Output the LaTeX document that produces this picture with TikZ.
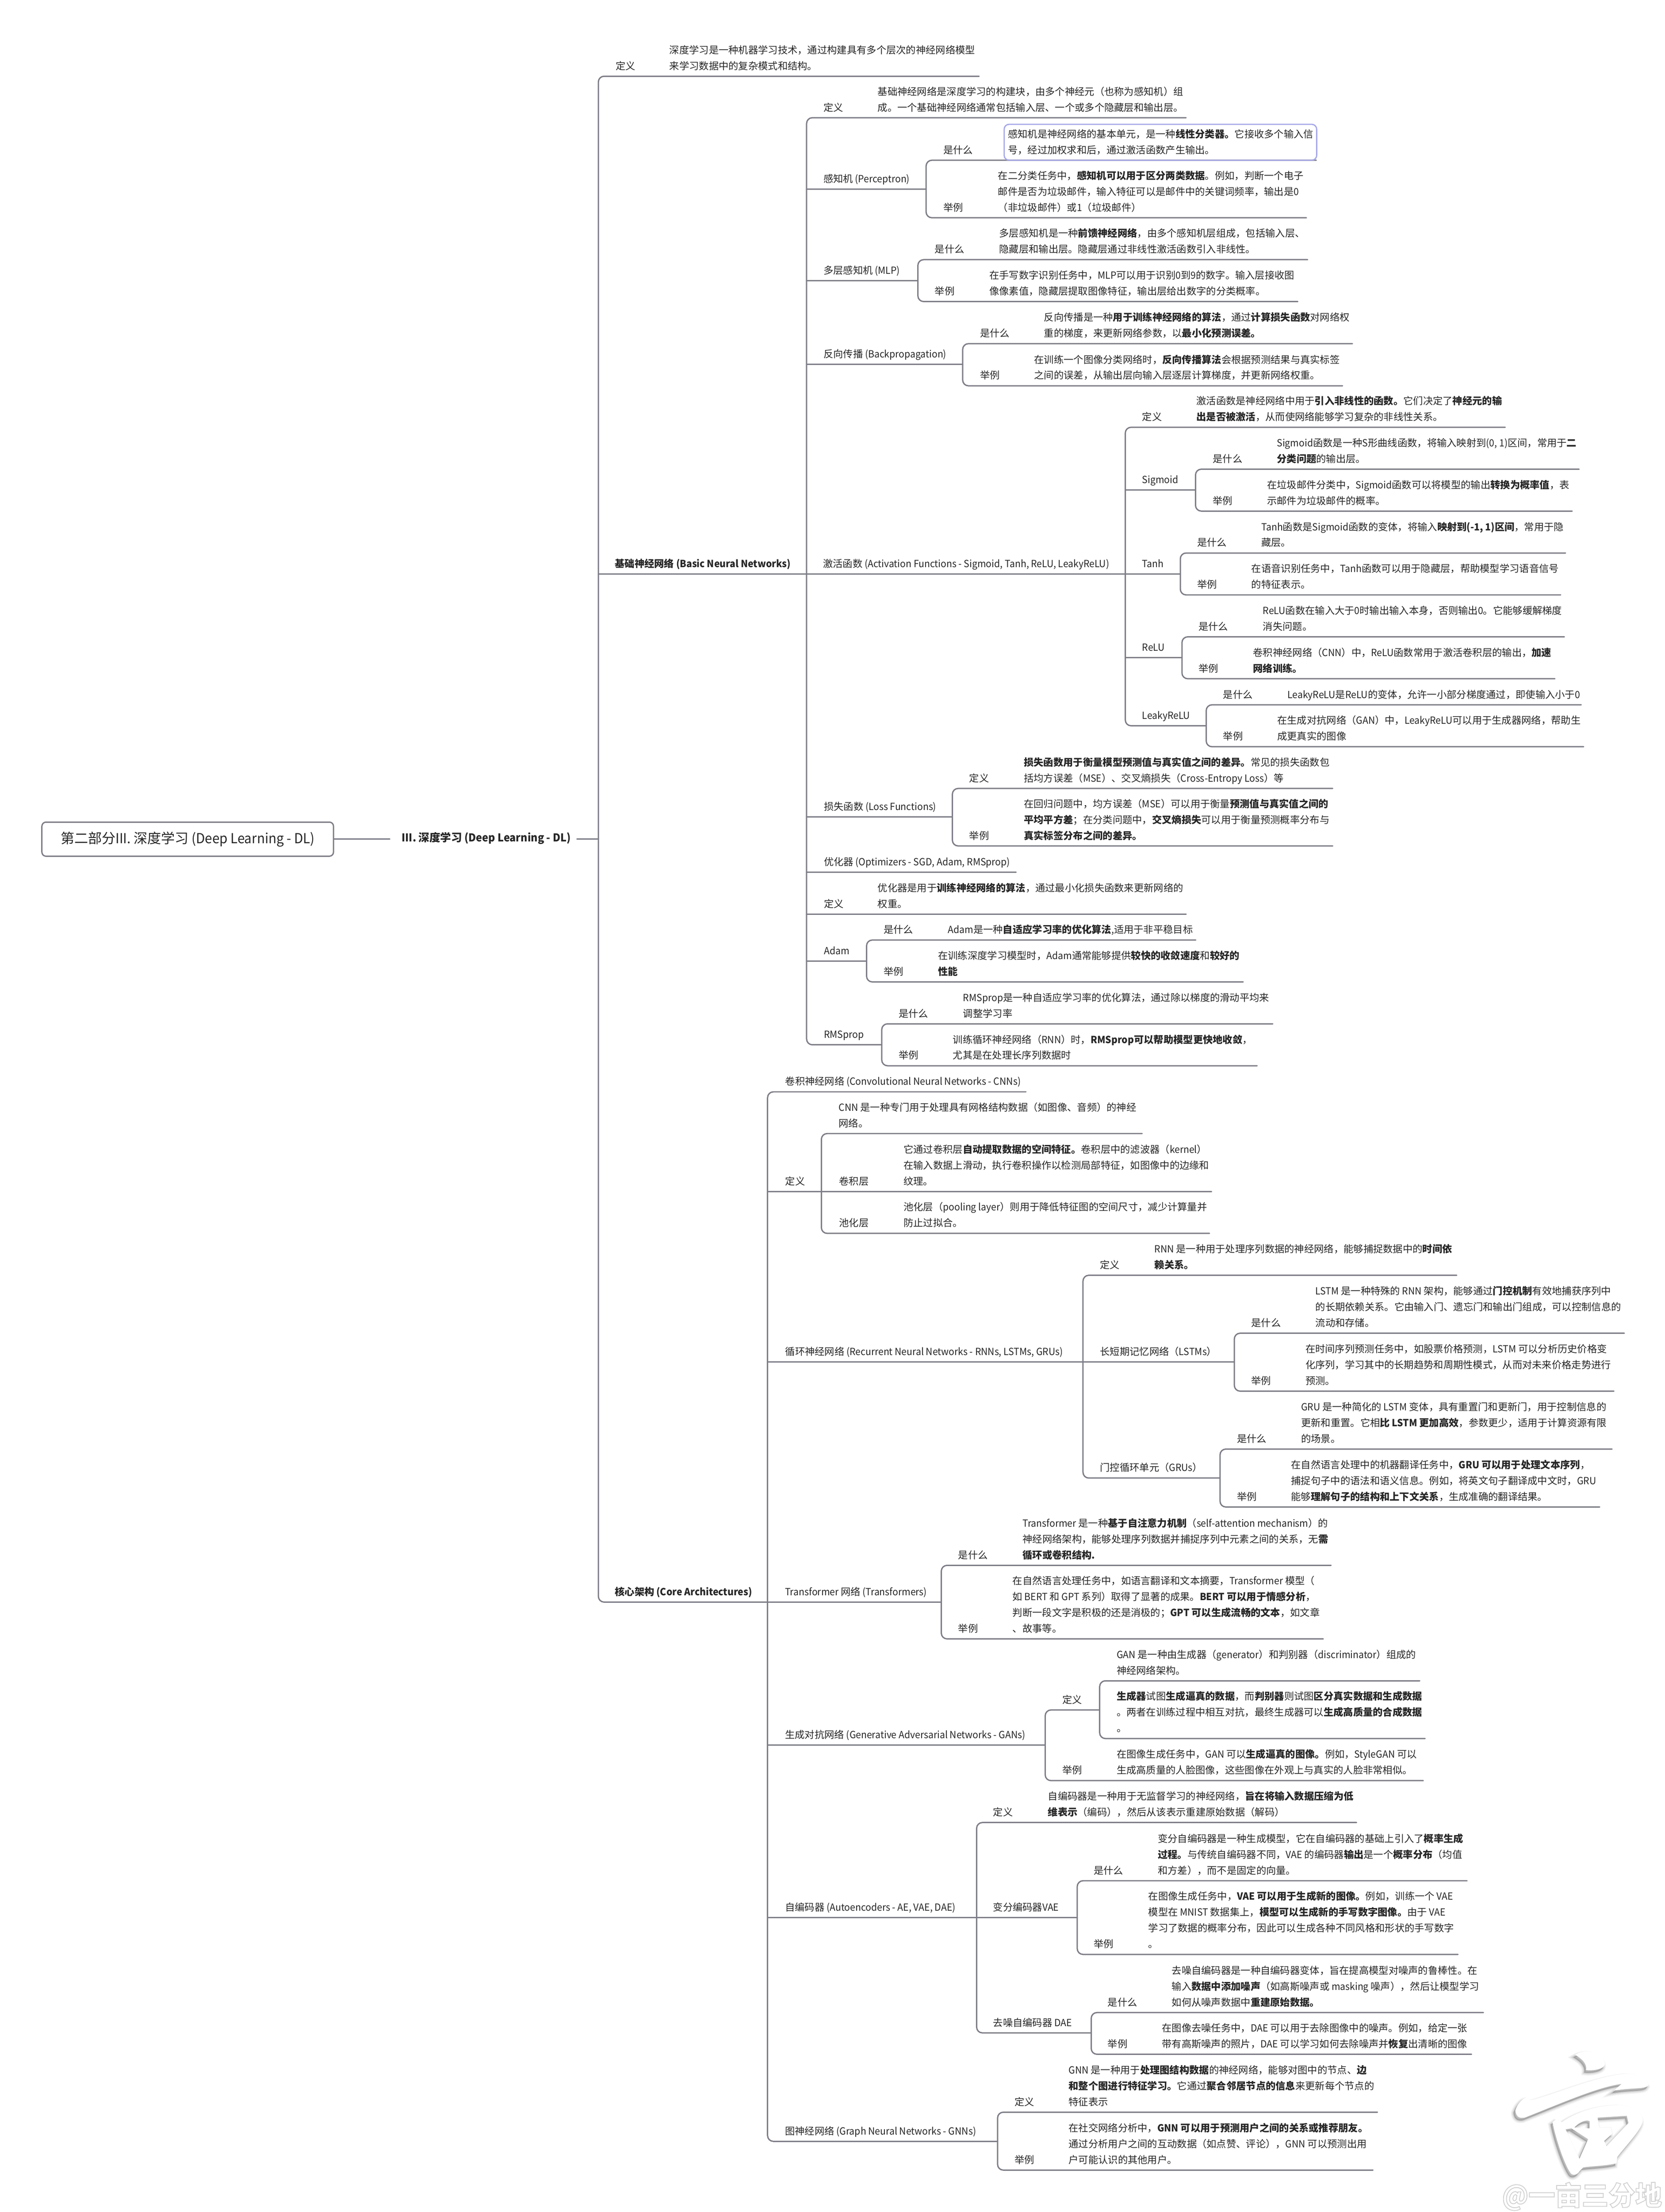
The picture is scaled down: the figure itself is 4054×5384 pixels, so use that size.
\documentclass[tikz,border=0pt]{standalone}
\usepackage{fontspec}
\setmainfont{Noto Sans CJK SC}[FakeStretch=0.95]
\newfontfamily\cjkfam{Noto Sans CJK SC}
\XeTeXinterchartokenstate=1
\newXeTeXintercharclass\mycjkclass
\newcount\cjkc
\cjkc="4E00 \loop\ifnum\cjkc<"A000 \XeTeXcharclass\cjkc=\mycjkclass \advance\cjkc 1 \repeat
\cjkc="3000 \loop\ifnum\cjkc<"3040 \XeTeXcharclass\cjkc=\mycjkclass \advance\cjkc 1 \repeat
\cjkc="FF00 \loop\ifnum\cjkc<"FFF0 \XeTeXcharclass\cjkc=\mycjkclass \advance\cjkc 1 \repeat
\XeTeXinterchartoks 0 \mycjkclass={\begingroup\cjkfam}
\XeTeXinterchartoks 4095 \mycjkclass={\begingroup\cjkfam}
\XeTeXinterchartoks \mycjkclass 0={\endgroup}
\XeTeXinterchartoks \mycjkclass 4095={\endgroup}
\definecolor{connc}{HTML}{7D7D87}
\definecolor{hlc}{HTML}{A6A8E8}
\definecolor{txc}{HTML}{262626}
\tikzset{
  conn/.style={draw=connc,line width=3.2pt,line cap=round},
  grp/.style={conn,rounded corners=14pt},
  basef/.style={font=\fontsize{24}{38.7}\selectfont,text=txc},
  lab/.style={basef,anchor=south west,inner sep=0pt,yshift=4.4pt},
  txt/.style={basef,anchor=south west,inner sep=0pt,yshift=4.4pt,align=left},
  rootbox/.style={draw=connc,line width=3.2pt,rounded corners=10pt,fill=white,minimum width=710pt,minimum height=83pt,inner sep=0pt,font=\fontsize{33.5}{38}\selectfont,text=txc},
  mainbox/.style={inner sep=0pt,inner xsep=15pt,font=\bfseries\fontsize{26.5}{32}\selectfont,text=txc},
  hlbox/.style={draw=hlc,line width=3pt,rounded corners=12pt},
  wmtext/.style={inner sep=0pt,font=\bfseries\fontsize{65}{70}\selectfont,text=white},
  wmshade/.style={even odd rule,draw=black,fill=black,shift={(-12,14)}}
}
\newcommand\tp[8]{\coordinate (#1-s) at (#2,#3);\coordinate (#1-e) at (#4,#3);\node[lab] (#1-l) at (#5,#3) {#6\strut};\node[txt] (#1-t) at (#7,#3) {#8\strut};}
\newcommand\tpl[6]{\coordinate (#1-s) at (#2,#3);\coordinate (#1-e) at (#4,#3);\node[lab] (#1-l) at (#5,#3) {#6\strut};}
\newcommand\tpt[6]{\coordinate (#1-s) at (#2,#3);\coordinate (#1-e) at (#4,#3);\node[txt] (#1-t) at (#5,#3) {#6\strut};}
\newcommand\grpline[2]{\draw[grp] (#1-e) -- (#1-s) -- (#2-s) -- (#2-e);}
\newcommand\midline[1]{\draw[conn] (#1-s) -- (#1-e);}
\newcommand\wmlogo{(945,690) .. controls (1020,650) and (1140,680) .. (1150,740) .. controls (1150,770) and (1070,780) .. (1020,775) .. controls (1030,740) and (990,710) .. (945,690) -- cycle
 (535,1000) .. controls (550,960) and (590,930) .. (610,930) .. controls (630,950) and (660,940) .. (700,930) .. controls (900,880) and (1100,810) .. (1300,795) .. controls (1380,795) and (1440,830) .. (1450,855) .. controls (1440,885) and (1350,870) .. (1210,890) -- (1265,852) .. controls (1100,870) and (850,960) .. (600,1040) .. controls (570,1045) and (540,1040) .. (535,1000) -- cycle
 (790,1065) -- (815,1050) -- (855,1065) .. controls (950,1010) and (1100,970) .. (1250,970) .. controls (1350,975) and (1410,1010) .. (1410,1060) .. controls (1400,1110) and (1280,1210) .. (1235,1260) -- (1230,1295) .. controls (1150,1310) and (1050,1310) .. (1000,1318) -- (975,1340) .. controls (960,1360) and (930,1365) .. (915,1350) .. controls (870,1300) and (810,1150) .. (790,1065) -- cycle
 (880,1105) -- (920,1100) -- (1035,1160) -- (975,1270) -- cycle
 (940,1095) .. controls (980,1060) and (1030,1050) .. (1045,1060) -- (1045,1100) -- cycle
 (1100,1040) -- (1300,1030) -- (1312,1070) -- (1160,1200) -- (1145,1170) -- (1200,1130) -- (1190,1095) -- (1110,1095) -- cycle}
\begin{document}
\begin{tikzpicture}[x=1pt,y=-1pt]
\useasboundingbox (0,0) rectangle (4054,5384);
\fill[white] (0,0) rectangle (4054,5384);
% watermark
\begin{scope}[shift={(3500,4700)},x=.3546pt,y=-.4367pt]
\filldraw[wmshade,opacity=.04,line width=14pt] \wmlogo;
\filldraw[wmshade,opacity=.05,line width=10pt] \wmlogo;
\filldraw[wmshade,opacity=.06,line width=6pt] \wmlogo;
\filldraw[wmshade,opacity=.07,line width=3pt] \wmlogo;
\fill[even odd rule,white] \wmlogo;
\end{scope}
\node[wmtext,anchor=center] (wm) at (3852,5346) {\special{pdf:code 2 Tr 0.82 G 2 w}@一亩三分地\special{pdf:code 0 Tr}};
% root
\node[rootbox] (root) at (457,2042.5) {第二部分III. 深度学习 (Deep Learning - DL)};
\node[mainbox] (main) at (1184,2040) {III. 深度学习 (Deep Learning - DL)};
\coordinate (mainL) at (949,2042.5);
\coordinate (trunkM) at (1457,2042.5);
\draw[conn] (root.east) -- (mainL);
\draw[conn] (main.east |- trunkM) -- (trunkM);
% level 1
\tp{a}{1457}{185.5}{2384}{1499}{定义}{1630}{深度学习是一种机器学习技术，通过构建具有多个层次的神经网络模型\\来学习数据中的复杂模式和结构。}
\tpl{b}{1457}{1397}{1964}{1497}{\textbf{基础神经网络 (Basic Neural Networks)}}
\tpl{c}{1457}{3899.5}{1869}{1497}{\textbf{核心架构 (Core Architectures)}}
\grpline{a}{c}
\midline{b}
% basic neural networks
\tp{b1}{1964}{286.5}{2888}{2005}{定义}{2137}{基础神经网络是深度学习的构建块，由多个神经元（也称为感知机）组\\成。一个基础神经网络通常包括输入层、一个或多个隐藏层和输出层。}
\tpl{b2}{1964}{460.5}{2255}{2005}{感知机 (Perceptron)}
\tpl{b3}{1964}{683}{2235}{2005}{多层感知机 (MLP)}
\tpl{b4}{1964}{887}{2344}{2005}{反向传播 (Backpropagation)}
\tpl{b5}{1964}{1397}{2740}{2004}{激活函数 (Activation Functions - Sigmoid, Tanh, ReLU, LeakyReLU)}
\tpl{b6}{1964}{1988.5}{2319}{2006}{损失函数 (Loss Functions)}
\tpl{b7}{1964}{2122.5}{2474}{2006}{优化器 (Optimizers - SGD, Adam, RMSprop)}
\tp{b8}{1964}{2225}{2888}{2006}{定义}{2137}{优化器是用于\textbf{训练神经网络的算法}，通过最小化损失函数来更新网络的\\权重。}
\tpl{b9}{1964}{2339}{2110}{2006}{Adam}
\tpl{b10}{1964}{2543}{2147}{2006}{RMSprop}
\grpline{b1}{b10}
\midline{b2}\midline{b3}\midline{b4}\midline{b5}\midline{b6}\midline{b7}\midline{b8}\midline{b9}
% perceptron
\tp{p1}{2255}{390}{3205}{2297}{是什么}{2454}{感知机是神经网络的基本单元，是一种\textbf{线性分类器。}它接收多个输入信\\号，经过加权求和后，通过激活函数产生输出。}
\tp{p2}{2255}{530}{3181}{2297}{举例}{2430}{在二分类任务中，\textbf{感知机可以用于区分两类数据}。例如，判断一个电子\\邮件是否为垃圾邮件，输入特征可以是邮件中的关键词频率，输出是0\\（非垃圾邮件）或1（垃圾邮件）}
\grpline{p1}{p2}
\draw[hlbox] (2445,302.6) rectangle (3206,390);
% mlp
\tp{m1}{2235}{632}{3184}{2276}{是什么}{2433}{多层感知机是一种\textbf{前馈神经网络}，由多个感知机层组成，包括输入层、\\隐藏层和输出层。隐藏层通过非线性激活函数引入非线性。}
\tp{m2}{2235}{734}{3160}{2276}{举例}{2409}{在手写数字识别任务中，MLP可以用于识别0到9的数字。输入层接收图\\像像素值，隐藏层提取图像特征，输出层给出数字的分类概率。}
\grpline{m1}{m2}
% backprop
\tp{bp1}{2344}{836.5}{3293}{2386}{是什么}{2542}{反向传播是一种\textbf{用于训练神经网络的算法}，通过\textbf{计算损失函数}对网络权\\重的梯度，来更新网络参数，以\textbf{最小化预测误差。}}
\tp{bp2}{2344}{939}{3269}{2386}{举例}{2518}{在训练一个图像分类网络时，\textbf{反向传播算法}会根据预测结果与真实标签\\之间的误差，从输出层向输入层逐层计算梯度，并更新网络权重。}
\grpline{bp1}{bp2}
% activation
\tp{ac1}{2740}{1040}{3665}{2781}{定义}{2913}{激活函数是神经网络中用于\textbf{引入非线性的函数。}它们决定了\textbf{神经元的输}\\\textbf{出是否被激活}，从而使网络能够学习复杂的非线性关系。}
\tpl{ac2}{2740}{1193}{2911}{2781}{Sigmoid}
\tpl{ac3}{2740}{1397}{2874}{2781}{Tanh}
\tpl{ac4}{2740}{1601}{2878}{2781}{ReLU}
\tpl{ac5}{2740}{1766.5}{2937}{2781}{LeakyReLU}
\grpline{ac1}{ac5}
\midline{ac2}\midline{ac3}\midline{ac4}
\tp{s1}{2911}{1142}{3845}{2953}{是什么}{3109}{Sigmoid函数是一种S形曲线函数，将输入映射到(0, 1)区间，常用于\textbf{二}\\\textbf{分类问题}的输出层。}
\tp{s2}{2911}{1244}{3828}{2953}{举例}{3085}{在垃圾邮件分类中，Sigmoid函数可以将模型的输出\textbf{转换为概率值}，表\\示邮件为垃圾邮件的概率。}
\grpline{s1}{s2}
\tp{t1}{2874}{1346}{3812}{2915}{是什么}{3071}{Tanh函数是Sigmoid函数的变体，将输入\textbf{映射到(-1, 1)区间}，常用于隐\\藏层。}
\tp{t2}{2874}{1448}{3800}{2915}{举例}{3047}{在语音识别任务中，Tanh函数可以用于隐藏层，帮助模型学习语音信号\\的特征表示。}
\grpline{t1}{t2}
\tp{r1}{2878}{1550}{3809}{2918}{是什么}{3075}{ReLU函数在输入大于0时输出输入本身，否则输出0。它能够缓解梯度\\消失问题。}
\tp{r2}{2878}{1652}{3786}{2918}{举例}{3051}{卷积神经网络（CNN）中，ReLU函数常用于激活卷积层的输出，\textbf{加速}\\\textbf{网络训练。}}
\grpline{r1}{r2}
\tp{l1}{2937}{1715.5}{3850}{2978}{是什么}{3135}{LeakyReLU是ReLU的变体，允许一小部分梯度通过，即使输入小于0}
\tp{l2}{2937}{1817.5}{3856}{2978}{举例}{3110}{在生成对抗网络（GAN）中，LeakyReLU可以用于生成器网络，帮助生\\成更真实的图像}
\grpline{l1}{l2}
% loss
\tp{ls1}{2319}{1919}{3245}{2360}{定义}{2493}{\textbf{损失函数用于衡量模型预测值与真实值之间的差异。}常见的损失函数包\\括均方误差（MSE）、交叉熵损失（Cross-Entropy Loss）等}
\tp{ls2}{2319}{2059}{3245}{2360}{举例}{2493}{在回归问题中，均方误差（MSE）可以用于衡量\textbf{预测值与真实值之间的}\\\textbf{平均平方差}；在分类问题中，\textbf{交叉熵损失}可以用于衡量预测概率分布与\\\textbf{真实标签分布之间的差异。}}
\grpline{ls1}{ls2}
% adam
\tp{ad1}{2110}{2288}{2911.5}{2151.5}{是什么}{2308}{Adam是一种\textbf{自适应学习率的优化算法},适用于非平稳目标}
\tp{ad2}{2110}{2390}{3027}{2151.5}{举例}{2284}{在训练深度学习模型时，Adam通常能够提供\textbf{较快的收敛速度}和\textbf{较好的}\\\textbf{性能}}
\grpline{ad1}{ad2}
% rmsprop
\tp{rm1}{2147}{2492}{3099}{2188}{是什么}{2345}{RMSprop是一种自适应学习率的优化算法，通过除以梯度的滑动平均来\\调整学习率}
\tp{rm2}{2147}{2594}{3061}{2188}{举例}{2320}{训练循环神经网络（RNN）时，\textbf{RMSprop可以帮助模型更快地收敛}，\\尤其是在处理长序列数据时}
\grpline{rm1}{rm2}
% core
\tpl{c1}{1869}{2657.5}{2498}{1912}{卷积神经网络 (Convolutional Neural Networks - CNNs)}
\tpl{c2}{1869}{2900}{2000}{1912}{定义}
\tpl{c3}{1869}{3315}{2637}{1912}{循环神经网络 (Recurrent Neural Networks - RNNs, LSTMs, GRUs)}
\tpl{c4}{1869}{3899.5}{2292}{1911.5}{Transformer 网络 (Transformers)}
\tpl{c5}{1869}{4247.5}{2545}{1911.5}{生成对抗网络 (Generative Adversarial Networks - GANs)}
\tpl{c6}{1869}{4667}{2378}{1911.5}{自编码器 (Autoencoders - AE, VAE, DAE)}
\tpl{c7}{1869}{5212}{2429}{1911.5}{图神经网络 (Graph Neural Networks - GNNs)}
\grpline{c1}{c7}
\midline{c2}\midline{c3}\midline{c4}\midline{c5}\midline{c6}
% cnn
\tpt{n1}{2000}{2759}{2781}{2042}{CNN 是一种专门用于处理具有网格结构数据（如图像、音频）的神经\\网络。}
\tp{n2}{2000}{2900}{2950}{2043}{卷积层}{2200}{它通过卷积层\textbf{自动提取数据的空间特征。}卷积层中的滤波器（kernel）\\在输入数据上滑动，执行卷积操作以检测局部特征，如图像中的边缘和\\纹理。}
\tp{n3}{2000}{3002}{2945}{2043}{池化层}{2200}{池化层（pooling layer）则用于降低特征图的空间尺寸，减少计算量并\\防止过拟合。}
\grpline{n1}{n3}
\midline{n2}
% rnn
\tp{q1}{2637}{3104}{3547}{2678.5}{定义}{2811}{RNN 是一种用于处理序列数据的神经网络，能够捕捉数据中的\textbf{时间依}\\\textbf{赖关系。}}
\tpl{q2}{2637}{3315}{3005.5}{2678.5}{长短期记忆网络（LSTMs）}
\tpl{q3}{2637}{3597.5}{2970.7}{2678.5}{门控循环单元（GRUs）}
\grpline{q1}{q3}
\midline{q2}
\tp{q4}{3005.5}{3245}{3955}{3046.6}{是什么}{3203}{LSTM 是一种特殊的 RNN 架构，能够通过\textbf{门控机制}有效地捕获序列中\\的长期依赖关系。它由输入门、遗忘门和输出门组成，可以控制信息的\\流动和存储。}
\tp{q5}{3005.5}{3386}{3929.6}{3046.6}{举例}{3178.5}{在时间序列预测任务中，如股票价格预测，LSTM 可以分析历史价格变\\化序列，学习其中的长期趋势和周期性模式，从而对未来价格走势进行\\预测。}
\grpline{q4}{q5}
\tp{q6}{2970.7}{3527}{3925}{3012}{是什么}{3168}{GRU 是一种简化的 LSTM 变体，具有重置门和更新门，用于控制信息的\\更新和重置。它相\textbf{比 LSTM 更加高效}，参数更少，适用于计算资源有限\\的场景。}
\tp{q7}{2970.7}{3668}{3895}{3012}{举例}{3143.7}{在自然语言处理中的机器翻译任务中，\textbf{GRU 可以用于处理文本序列}，\\捕捉句子中的语法和语义信息。例如，将英文句子翻译成中文时，GRU\\能够\textbf{理解句子的结构和上下文关系}，生成准确的翻译结果。}
\grpline{q6}{q7}
% transformer
\tp{f1}{2292}{3810}{3241}{2333}{是什么}{2490}{Transformer 是一种\textbf{基于自注意力机制}（self-attention mechanism）的\\神经网络架构，能够处理序列数据并捕捉序列中元素之间的关系，无\textbf{需}\\\textbf{循环或卷积结构.}}
\tp{f2}{2292}{3989}{3222}{2333}{举例}{2465.5}{在自然语言处理任务中，如语言翻译和文本摘要，Transformer 模型（\\如 BERT 和 GPT 系列）取得了显著的成果。\textbf{BERT 可以用于情感分析}，\\判断一段文字是积极的还是消极的；\textbf{GPT 可以生成流畅的文本}，如文章\\、故事等。}
\grpline{f1}{f2}
% gan
\tpl{g1}{2545}{4162}{2677.6}{2586.7}{定义}
\tp{g2}{2545}{4334}{3465.5}{2586.7}{举例}{2718.8}{在图像生成任务中，GAN 可以\textbf{生成逼真的图像。}例如，StyleGAN 可以\\生成高质量的人脸图像，这些图像在外观上与真实的人脸非常相似。}
\grpline{g1}{g2}
\tpt{g3}{2677.6}{4091}{3457}{2718.8}{GAN 是一种由生成器（generator）和判别器（discriminator）组成的\\神经网络架构。}
\tpt{g4}{2677.6}{4231.6}{3470}{2718.8}{\textbf{生成器}试图\textbf{生成逼真的数据}，而\textbf{判别器}则试图\textbf{区分真实数据和生成数据}\\。两者在训练过程中相互对抗，最终生成器可以\textbf{生成高质量的合成数据}\\。}
\grpline{g3}{g4}
% autoencoder
\tp{e1}{2378}{4436}{3303}{2418}{定义}{2551.5}{自编码器是一种用于无监督学习的神经网络，\textbf{旨在将输入数据压缩为低}\\\textbf{维表示}（编码），然后从该表示重建原始数据（解码）}
\tpl{e2}{2378}{4667}{2623}{2418}{变分编码器VAE}
\tpl{e3}{2378}{4948}{2657}{2418}{去噪自编码器 DAE}
\grpline{e1}{e3}
\midline{e2}
\tp{e4}{2623}{4577.7}{3572}{2663}{是什么}{2819}{变分自编码器是一种生成模型，它在自编码器的基础上引入了\textbf{概率生成}\\\textbf{过程。}与传统自编码器不同，VAE 的编码器\textbf{输出}是一个\textbf{概率分布}（均值\\和方差），而不是固定的向量。}
\tp{e5}{2623}{4757}{3550}{2663}{举例}{2796}{在图像生成任务中，\textbf{VAE 可以用于生成新的图像。}例如，训练一个 VAE\\模型在 MNIST 数据集上，\textbf{模型可以生成新的手写数字图像。}由于 VAE\\学习了数据的概率分布，因此可以生成各种不同风格和形状的手写数字\\。}
\grpline{e4}{e5}
\tp{e6}{2657}{4898.5}{3612}{2697}{是什么}{2853}{去噪自编码器是一种自编码器变体，旨在提高模型对噪声的鲁棒性。在\\输入\textbf{数据中添加噪声}（如高斯噪声或 masking 噪声），然后让模型学习\\如何从噪声数据中\textbf{重建原始数据。}}
\tp{e7}{2657}{5000}{3583}{2697}{举例}{2829}{在图像去噪任务中，DAE 可以用于去除图像中的噪声。例如，给定一张\\带有高斯噪声的照片，DAE 可以学习如何去除噪声并\textbf{恢复}出清晰的图像}
\grpline{e6}{e7}
% gnn
\tp{h1}{2429}{5141}{3354}{2470}{定义}{2602}{GNN 是一种用于\textbf{处理图结构数据}的神经网络，能够对图中的节点、\textbf{边}\\\textbf{和整个图进行特征学习。}它通过\textbf{聚合邻居节点的信息}来更新每个节点的\\特征表示}
\tp{h2}{2429}{5282}{3343}{2470}{举例}{2602}{在社交网络分析中，\textbf{GNN 可以用于预测用户之间的关系或推荐朋友。}\\通过分析用户之间的互动数据（如点赞、评论），GNN 可以预测出用\\户可能认识的其他用户。}
\grpline{h1}{h2}
\end{tikzpicture}
\end{document}
